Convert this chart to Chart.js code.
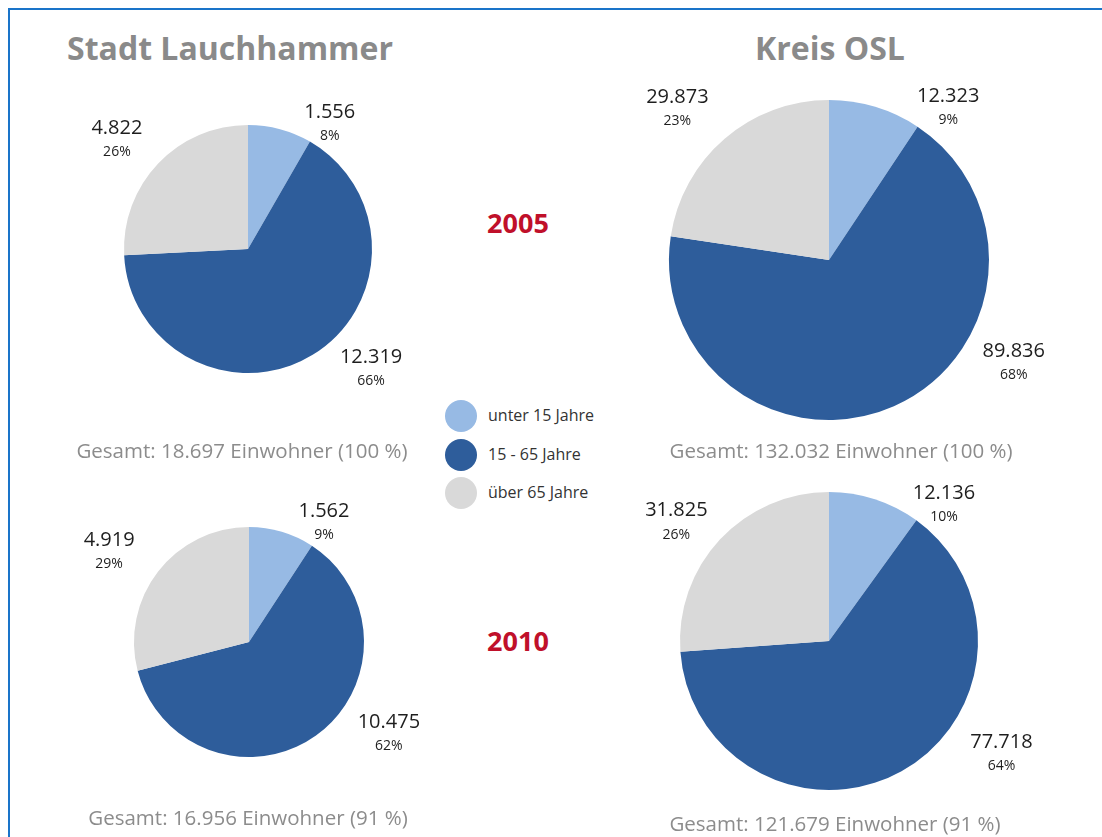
<!DOCTYPE html>
<html lang="de">
<head>
<meta charset="utf-8">
<script src="https://cdn.jsdelivr.net/npm/chart.js@4.4.1/dist/chart.umd.min.js"></script>
<style>
  html, body { margin:0; padding:0; }
  body { width:1102px; height:837px; overflow:hidden; position:relative; background:#fff;
         font-family:'Open Sans', sans-serif; }
  .frame { position:absolute; left:8px; top:8px; width:1200px; height:900px;
           border-left:2px solid #1a74c9; border-top:2px solid #1a74c9; }
  .txt { position:absolute; white-space:nowrap; transform:translate(-50%,-50%); }
  .title { font-weight:700; font-size:32px; color:#8a8a8a; }
  .year { font-weight:700; font-size:27px; color:#c0102a; }
  .total { font-size:20.5px; color:#8c8c8c; }
  .leg { position:absolute; left:445px; font-size:16px; color:#333; }
  .leg span.dot { position:absolute; left:0; top:-16px; width:32px; height:32px; border-radius:50%; }
  .leg span.lbl { position:absolute; left:43px; top:-12px; white-space:nowrap; }
  canvas { position:absolute; }
</style>
</head>
<body>
<div class="frame"></div>
<div id="stage"></div>

<script>
// ============================================
// DATEN
// ============================================

const gruppen   = ['unter 15 Jahre', '15 - 65 Jahre', 'über 65 Jahre'];
const farben    = ['#97bae4', '#2e5d9b', '#d9d9d9'];

const lauch2005 = [1556, 12319, 4822];
const lauch2010 = [1562, 10475, 4919];
const osl2005   = [12323, 89836, 29873];
const osl2010   = [12136, 77718, 31825];

const gebiete   = ['Stadt Lauchhammer', 'Kreis OSL'];
const jahre     = ['2005', '2010'];
const anteilGesamt = ['100', '91'];   // Anteil an 2005, wie im Original beschriftet

// ============================================
// LAYOUT (Mittelpunkt, Radius, Beschriftungswinkel)
// ============================================

const PIES = [
  { data: lauch2005, cx: 248, cy: 249, r: 124, ang: [33, 134, 310], dist: [1.21, 1.38, 1.38], total: { x: 242, y: 450 }, share: 0 },
  { data: osl2005,   cx: 829, cy: 260, r: 160, ang: [38, 119, 315], dist: [1.21, 1.32, 1.34], total: { x: 841, y: 450 }, share: 0 },
  { data: lauch2010, cx: 249, cy: 642, r: 115, ang: [32, 123, 303], dist: [1.23, 1.45, 1.45], total: { x: 248, y: 817 }, share: 1 },
  { data: osl2010,   cx: 829, cy: 641, r: 149, ang: [40, 123, 308], dist: [1.20, 1.38, 1.30], total: { x: 835, y: 823 }, share: 1 },
];

const fmtDE = (n) => String(n).replace(/\B(?=(\d{3})+(?!\d))/g, '.');
const sum   = (a) => a.reduce((s, v) => s + v, 0);

const stage = document.getElementById('stage');

function addText(cls, text, x, y) {
  const d = document.createElement('div');
  d.className = 'txt ' + cls;
  d.style.left = x + 'px';
  d.style.top  = y + 'px';
  d.textContent = text;
  stage.appendChild(d);
}

// Titel + Jahre
addText('title', gebiete[0], 230, 47);
addText('title', gebiete[1], 830, 47);
addText('year', jahre[0], 518, 222);
addText('year', jahre[1], 518, 640);

// Legende
const legY = [416, 455, 493];
gruppen.forEach((g, i) => {
  const el = document.createElement('div');
  el.className = 'leg';
  el.style.top = legY[i] + 'px';
  el.innerHTML = `<span class="dot" style="background:${farben[i]}"></span><span class="lbl">${g}</span>`;
  stage.appendChild(el);
});

// ============================================
// BESCHRIFTUNGS-PLUGIN (Wert + Prozent außen)
// ============================================

const outsideLabels = {
  id: 'outsideLabels',
  afterDatasetsDraw(chart, args, opts) {
    const { ctx } = chart;
    const meta  = chart.getDatasetMeta(0);
    const vals  = chart.data.datasets[0].data;
    const total = sum(vals);
    ctx.save();
    ctx.textAlign = 'center';
    ctx.textBaseline = 'middle';
    ctx.fillStyle = '#1e1e1e';
    meta.data.forEach((arc, i) => {
      const a = opts.ang[i] * Math.PI / 180;
      const d = arc.outerRadius * opts.dist[i];
      const x = arc.x + d * Math.sin(a);
      const y = arc.y - d * Math.cos(a);
      ctx.font = '20px "Open Sans", sans-serif';
      ctx.fillText(fmtDE(vals[i]), x, y - 11);
      ctx.font = '14px "Open Sans", sans-serif';
      ctx.fillText(Math.round(vals[i] / total * 100) + '%', x, y + 13);
    });
    ctx.restore();
  }
};

// ============================================
// DIAGRAMME
// ============================================

PIES.forEach((p) => {
  const pad  = Math.round(p.r * 0.55 + 50);
  const size = 2 * (p.r + pad);
  const cv = document.createElement('canvas');
  cv.width = size; cv.height = size;
  cv.style.left = (p.cx - p.r - pad) + 'px';
  cv.style.top  = (p.cy - p.r - pad) + 'px';
  cv.style.width = size + 'px'; cv.style.height = size + 'px';
  stage.appendChild(cv);

  new Chart(cv.getContext('2d'), {
    type: 'pie',
    data: {
      labels: gruppen,
      datasets: [{ data: p.data, backgroundColor: farben, borderWidth: 0 }],
    },
    options: {
      responsive: false,
      animation: false,
      layout: { padding: pad },
      plugins: {
        legend: { display: false },
        tooltip: { enabled: false },
        outsideLabels: { ang: p.ang, dist: p.dist },
      },
    },
    plugins: [outsideLabels],
  });

  addText('total', `Gesamt: ${fmtDE(sum(p.data))} Einwohner (${anteilGesamt[p.share]} %)`, p.total.x, p.total.y);
});
</script>
</body>
</html>
